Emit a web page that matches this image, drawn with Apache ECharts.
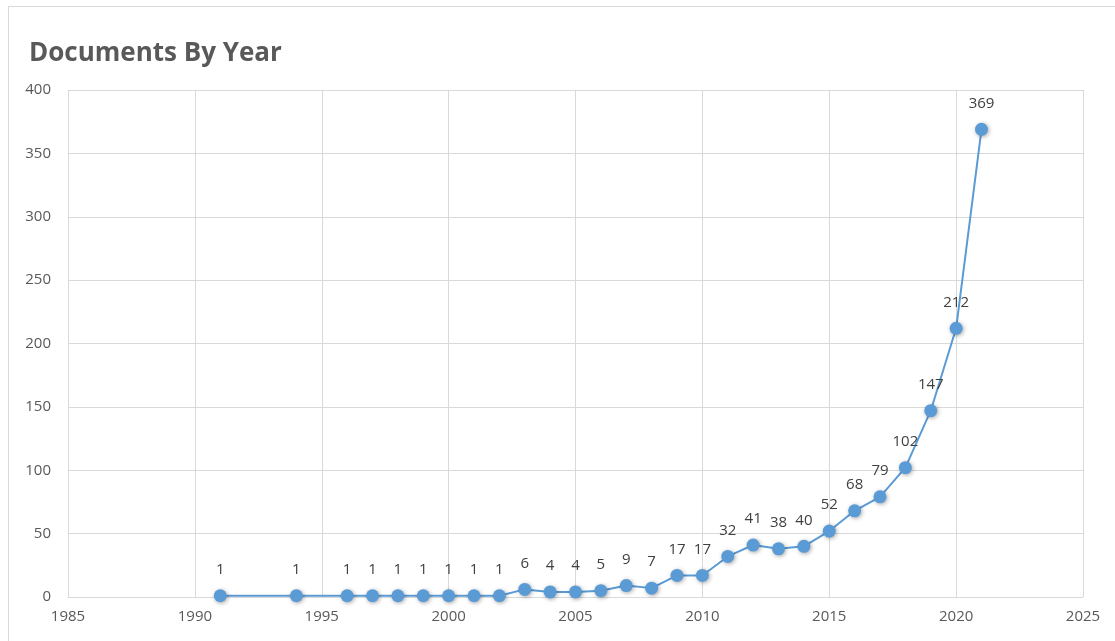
<!DOCTYPE html>
<html>
<head>
<meta charset="utf-8">
<script src="https://cdn.jsdelivr.net/npm/echarts@6/dist/echarts.min.js"></script>
<style>
  html, body { margin: 0; padding: 0; background: #fff; }
  #chart { width: 1115px; height: 641px; }
  #frame { position: absolute; left: 8px; top: 6px; width: 1120px; height: 650px; border: 1px solid #d9d9d9; box-sizing: border-box; pointer-events: none; }
</style>
</head>
<body>
<div id="chart"></div>
<div id="frame"></div>
<script>
// Publication years and document counts
const years = [1991, 1994, 1996, 1997, 1998, 1999, 2000, 2001, 2002, 2003, 2004, 2005, 2006, 2007, 2008, 2009, 2010, 2011, 2012, 2013, 2014, 2015, 2016, 2017, 2018, 2019, 2020, 2021];
const documents = [1, 1, 1, 1, 1, 1, 1, 1, 1, 6, 4, 4, 5, 9, 7, 17, 17, 32, 41, 38, 40, 52, 68, 79, 102, 147, 212, 369];

const chart = echarts.init(document.getElementById('chart'));
const font = 'Open Sans, Liberation Sans, sans-serif';

chart.setOption({
  animation: false,
  title: {
    text: 'Documents By Year',
    left: 24,
    top: 36,
    textStyle: { fontFamily: font, fontSize: 26, fontWeight: 'bold', color: '#595959' }
  },
  grid: { left: 68, right: 32, top: 90, bottom: 44 },
  xAxis: {
    type: 'value',
    min: 1985,
    max: 2025,
    interval: 5,
    axisLine: { show: true, lineStyle: { color: '#d9d9d9' } },
    axisTick: { show: false },
    splitLine: { show: true, lineStyle: { color: '#d9d9d9' } },
    axisLabel: { color: '#595959', fontFamily: font, fontSize: 15, margin: 12, formatter: v => String(v) }
  },
  yAxis: {
    type: 'value',
    min: 0,
    max: 400,
    interval: 50,
    axisLine: { show: false },
    axisTick: { show: false },
    splitLine: { show: true, lineStyle: { color: '#d9d9d9' } },
    axisLabel: { color: '#595959', fontFamily: font, fontSize: 15, margin: 17 }
  },
  series: [{
    type: 'line',
    data: years.map((y, i) => [y, documents[i]]),
    symbol: 'circle',
    symbolSize: 13,
    lineStyle: { color: '#5b9bd5', width: 2 },
    itemStyle: { color: '#5b9bd5', shadowColor: 'rgba(0,0,0,0.35)', shadowBlur: 4, shadowOffsetX: 1, shadowOffsetY: 1 },
    label: {
      show: true,
      position: 'top',
      distance: 12,
      color: '#404040',
      fontFamily: font,
      fontSize: 15,
      formatter: p => p.value[1]
    }
  }]
});
</script>
</body>
</html>
